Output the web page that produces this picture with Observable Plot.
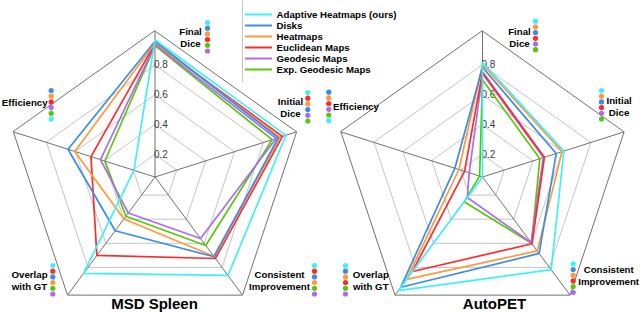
<!DOCTYPE html>
<html><head><meta charset="utf-8">
<script src="https://cdn.jsdelivr.net/npm/d3@7"></script>
<script src="https://cdn.jsdelivr.net/npm/@observablehq/plot@0.6"></script>
<style>
body{margin:0;background:#fff;font-family:"Liberation Sans",Arial,sans-serif;}
#wrap{position:relative;width:640px;height:313px;overflow:hidden;}
#legend{position:absolute;left:242px;top:-1px;}
</style></head><body><div id="wrap"><div id="chart"></div><div id="legend"></div></div>
<script>
// ---------------- data ----------------
const axes = ["Final Dice", "Initial Dice", "Consistent Improvement", "Overlap with GT", "Efficiency"];
const axisLabels = ["Final\nDice", "Initial\nDice", "Consistent\nImprovement", "Overlap\nwith GT", "Efficiency"];
const datasets = ["MSD Spleen", "AutoPET"];
const methods = ["Adaptive Heatmaps (ours)", "Disks", "Heatmaps", "Euclidean Maps", "Geodesic Maps", "Exp. Geodesic Maps"];
const methodColors = ["#3ff0fa", "#3b8beb", "#ff9a3c", "#ff2a2a", "#aa6bf5", "#58c806"];
const tickValues = [0.2, 0.4, 0.6, 0.8];
const tickLabels = ["0.2", "0.4", "0.6", "0.8"];

// values per method, in axis order: Final Dice, Initial Dice, Consistent Improvement, Overlap with GT, Efficiency
const spleenAdaptive    = [0.971, 0.955, 0.867, 0.850, 0.196];
const spleenDisks       = [0.961, 0.903, 0.712, 0.496, 0.652];
const spleenHeatmaps    = [0.949, 0.917, 0.707, 0.398, 0.605];
const spleenEuclidean   = [0.945, 0.932, 0.726, 0.701, 0.493];
const spleenGeodesic    = [0.937, 0.888, 0.560, 0.349, 0.427];
const spleenExpGeodesic = [0.932, 0.860, 0.618, 0.376, 0.397];

const autopetAdaptive    = [0.820, 0.613, 0.819, 0.993, 0.050];
const autopetDisks       = [0.787, 0.560, 0.684, 0.965, 0.241];
const autopetHeatmaps    = [0.805, 0.601, 0.663, 0.900, 0.213];
const autopetEuclidean   = [0.754, 0.478, 0.604, 0.834, 0.174];
const autopetGeodesic    = [0.743, 0.471, 0.594, 0.220, 0.142];
const autopetExpGeodesic = [0.702, 0.447, 0.599, 0.256, 0.070];

// ranking dots next to each axis label (method indices, best first)
const spleenRanks  = [[0,1,2,3,5,4], [0,3,2,1,4,5], [0,3,1,2,5,4], [0,3,1,2,5,4], [1,2,3,4,5,0]];
const autopetRanks = [[0,2,1,3,4,5], [0,2,1,3,4,5], [0,1,2,3,5,4], [0,1,2,3,5,4], [1,2,3,4,5,0]];

// ---------------- layout ----------------
const R = 146;          // outer radius (px)
const SX = 1.02;        // horizontal stretch of the reference
const rMin = 0.05, rMax = 1.03;
const radius = d3.scaleLinear().domain([rMin, rMax]).range([0, R]);
const angle = k => k * 2 * Math.PI / axes.length;
const DOT_STEP = 5.7;

// label placement, px offsets from chart centre (y downward)
const labelLayout = {
  "MSD Spleen": [
    {tx: 35.5,   ty: -140,  dotX: 52.5,   dotY: -154.5},
    {tx: 135.5,  ty: -70,   dotX: 152.8,  dotY: -84.5},
    {tx: 124.5,  ty: 103.5, dotX: 159.5,  dotY: 88.5},
    {tx: -125.5, ty: 103.5, dotX: -102.2, dotY: 88.5},
    {tx: -130.3, ty: -74.8, dotX: -103.8, dotY: -86.5}
  ],
  "AutoPET": [
    {tx: 37,     ty: -139.7, dotX: 53,     dotY: -155.8},
    {tx: 136.6,  ty: -70.7,  dotX: 119,    dotY: -86.5},
    {tx: 126.2,  ty: 98,     dotX: 90.7,   dotY: 86.8},
    {tx: -111.7, ty: 103.5,  dotX: -137,   dotY: 88.5},
    {tx: -126.5, ty: -70.5,  dotX: -153.7, dotY: -84.8}
  ]
};
const titleLayout = {"MSD Spleen": {x: -0.5, y: 127.5}, "AutoPET": {x: 12, y: 127.5}};

// ---------------- tables ----------------
const valueSets = {
  "MSD Spleen": [spleenAdaptive, spleenDisks, spleenHeatmaps, spleenEuclidean, spleenGeodesic, spleenExpGeodesic],
  "AutoPET": [autopetAdaptive, autopetDisks, autopetHeatmaps, autopetEuclidean, autopetGeodesic, autopetExpGeodesic]
};
const rankSets = {"MSD Spleen": spleenRanks, "AutoPET": autopetRanks};

const polyPts = [];
for (const ds of datasets) {
  for (let mi = methods.length - 1; mi >= 0; --mi) {
    valueSets[ds][mi].forEach((v, k) => {
      polyPts.push({dataset: ds, method: methods[mi], key: ds + mi, x: radius(v) * Math.sin(angle(k)), y: radius(v) * Math.cos(angle(k))});
    });
  }
}
const ringPts = [];
for (const v of tickValues) axes.forEach((a, k) => ringPts.push({ring: v, x: radius(v) * Math.sin(angle(k)), y: radius(v) * Math.cos(angle(k))}));
const outerPts = axes.map((a, k) => ({x: R * Math.sin(angle(k)), y: R * Math.cos(angle(k))}));

const labelRows = [], dotRows = [], titleRows = [];
for (const ds of datasets) {
  axes.forEach((a, k) => {
    const L = labelLayout[ds][k];
    labelRows.push({dataset: ds, text: axisLabels[k], x: L.tx / SX, y: -L.ty});
    rankSets[ds][k].forEach((mi, j) => dotRows.push({dataset: ds, method: methods[mi], x: L.dotX / SX, y: -(L.dotY + j * DOT_STEP)}));
  });
  titleRows.push({dataset: ds, text: ds, x: titleLayout[ds].x / SX, y: -titleLayout[ds].y});
}

const font = '"Liberation Sans", Arial, sans-serif';
const bandW = 294.74;

const chart = Plot.plot({
  width: 640, height: 313,
  marginLeft: 0, marginRight: 3.5, marginTop: 0, marginBottom: 0,
  fx: {domain: datasets, axis: null, label: null, paddingInner: 0.1, paddingOuter: 0.0218, round: false},
  x: {domain: [-bandW / 2 / SX, bandW / 2 / SX], axis: null},
  y: {domain: [-136.5, 176.5], axis: null},
  color: {domain: methods, range: methodColors},
  style: {fontFamily: font, background: "white", overflow: "visible"},
  marks: [
    Plot.line(ringPts, {x: "x", y: "y", z: "ring", curve: "linear-closed", stroke: "#c4c4c4", strokeWidth: 1}),
    Plot.line(outerPts, {x: "x", y: "y", curve: "linear-closed", stroke: "#707070", strokeWidth: 1}),
    Plot.link(outerPts, {x1: 0, y1: 0, x2: "x", y2: "y", stroke: "#707070", strokeWidth: 1}),
    Plot.text(tickValues, {x: 0, y: v => radius(v), text: (v, i) => tickLabels[i], textAnchor: "start", dx: -1, fontSize: 10, fill: "#3a3a3a"}),
    Plot.line(polyPts, {fx: "dataset", x: "x", y: "y", z: "key", stroke: "method", curve: "linear-closed", strokeWidth: 1.7, strokeLinejoin: "miter"}),
    Plot.text(labelRows, {fx: "dataset", x: "x", y: "y", text: "text", fontWeight: "bold", fontSize: 9.7, lineHeight: 1.24, fill: "black", textAnchor: "middle"}),
    Plot.dot(dotRows, {fx: "dataset", x: "x", y: "y", fill: "method", r: 2.6, stroke: null}),
    Plot.text(titleRows, {fx: "dataset", x: "x", y: "y", text: "text", fontWeight: "bold", fontSize: 15, fill: "black"})
  ]
});
document.getElementById("chart").append(chart);

const legend = Plot.plot({
  width: 162, height: 83, margin: 0,
  x: {domain: [0, 162], range: [0, 162], axis: null},
  y: {type: "point", domain: methods, range: [8.3, 76.3], axis: null},
  color: {domain: methods, range: methodColors},
  style: {fontFamily: font, background: "white"},
  marks: [
    Plot.frame({stroke: "#c8c8c8", fill: "white"}),
    Plot.ruleY(methods, {y: d => d, x1: 3, x2: 30, stroke: d => d, strokeWidth: 2}),
    Plot.text(methods, {y: d => d, x: 34, text: d => d, textAnchor: "start", fontWeight: "bold", fontSize: 9.7, fill: "black"})
  ]
});
document.getElementById("legend").append(legend);
</script>
</body></html>
